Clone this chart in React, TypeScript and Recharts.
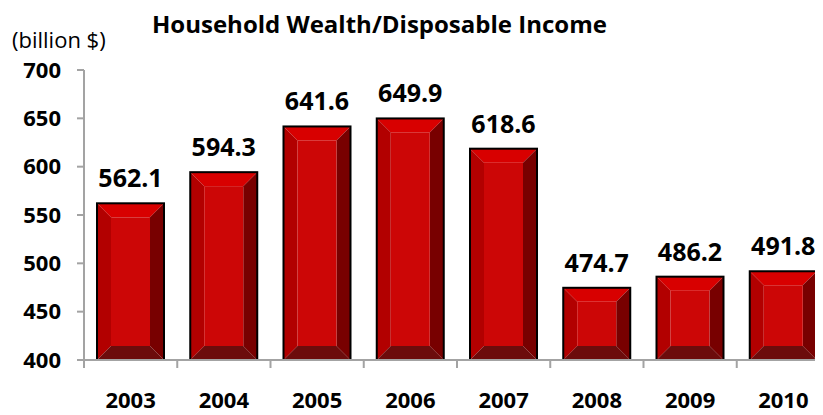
import React from 'react';
import { BarChart, Bar, XAxis, YAxis, LabelList } from 'recharts';

const years = ['2003', '2004', '2005', '2006', '2007', '2008', '2009', '2010'];
const wealthRatio = [562.1, 594.3, 641.6, 649.9, 618.6, 474.7, 486.2, 491.8];
const yTicks = [400, 450, 500, 550, 600, 650, 700];

const data = years.map((year, i) => ({ year, value: wealthRatio[i] }));

const CHART_W = 826;
const CHART_H = 407;
const Y_AXIS_W = 76;
const MARGIN = { top: 62, right: 4, bottom: 15, left: 0 };
const BAND = (CHART_W - Y_AXIS_W - MARGIN.left - MARGIN.right) / years.length;

const FONT = '"Open Sans", sans-serif';
const AXIS_GRAY = '#a3a3a3';

/** Bevelled red bar: four trapezoid edges round a flat face */
function BevelBar(props: { x?: number; y?: number; width?: number; height?: number }) {
  const { x = 0, y = 0, width: w = 0, height: h = 0 } = props;
  if (w <= 0 || h <= 0) return null;
  const b = Math.min(14, h / 2, w / 2);
  const pts = (arr: number[][]) => arr.map((p) => p.join(',')).join(' ');
  return (
    <g>
      <polygon points={pts([[x, y], [x + w, y], [x + w - b, y + b], [x + b, y + b]])} fill="#d80000" />
      <polygon points={pts([[x, y], [x + b, y + b], [x + b, y + h - b], [x, y + h]])} fill="#b20000" />
      <polygon points={pts([[x + w, y], [x + w, y + h], [x + w - b, y + h - b], [x + w - b, y + b]])} fill="#780000" />
      <polygon points={pts([[x, y + h], [x + b, y + h - b], [x + w - b, y + h - b], [x + w, y + h]])} fill="#6c0c0c" />
      <rect x={x + b} y={y + b} width={Math.max(0, w - 2 * b)} height={Math.max(0, h - 2 * b)} fill="#cc0606" />
      <rect x={x} y={y} width={w} height={h} fill="none" stroke="#000" strokeWidth={2} />
    </g>
  );
}

/** Category tick: boundary tick mark on the left, year label centred */
function YearTick(props: { x?: number; y?: number; payload?: { value: string } }) {
  const { x = 0, y = 0, payload } = props;
  const left = x - BAND / 2;
  return (
    <g>
      <line x1={left} y1={y} x2={left} y2={y + 8} stroke={AXIS_GRAY} strokeWidth={2} />
      <text x={x} y={y + 48} textAnchor="middle" fontFamily={FONT} fontWeight={700} fontSize={22} fill="#000">
        {payload?.value}
      </text>
    </g>
  );
}

export default function App() {
  return (
    <div style={{ position: 'relative', width: 815, height: CHART_H, overflow: 'hidden', background: '#fff' }}>
      <BarChart width={CHART_W} height={CHART_H} data={data} margin={MARGIN} barSize={67}>
        <XAxis
          dataKey="year"
          tick={<YearTick />}
          tickLine={false}
          tickSize={0}
          tickMargin={0}
          height={40}
          axisLine={{ stroke: AXIS_GRAY, strokeWidth: 2 }}
          interval={0}
        />
        <YAxis
          domain={[400, 700]}
          ticks={yTicks}
          allowDataOverflow
          width={Y_AXIS_W}
          tickSize={7}
          tickMargin={16}
          tickLine={{ stroke: AXIS_GRAY, strokeWidth: 2 }}
          axisLine={{ stroke: AXIS_GRAY, strokeWidth: 2 }}
          tick={{ fontFamily: FONT, fontWeight: 700, fontSize: 22, fill: '#000' }}
        />
        <Bar dataKey="value" shape={<BevelBar />} isAnimationActive={false}>
          <LabelList
            dataKey="value"
            position="top"
            offset={16}
            formatter={(v: number) => v.toFixed(1)}
            style={{ fontFamily: FONT, fontWeight: 700, fontSize: 25, fill: '#000' }}
          />
        </Bar>
      </BarChart>
      <svg width={815} height={60} style={{ position: 'absolute', left: 0, top: 0, pointerEvents: 'none' }}>
        <text x={144} y={25} fontFamily={FONT} fontWeight={700} fontSize={24} fill="#000">
          Household Wealth/Disposable Income
        </text>
        <text x={4} y={40} fontFamily={FONT} fontWeight={400} fontSize={22} fill="#000">
          (billion $)
        </text>
      </svg>
    </div>
  );
}
